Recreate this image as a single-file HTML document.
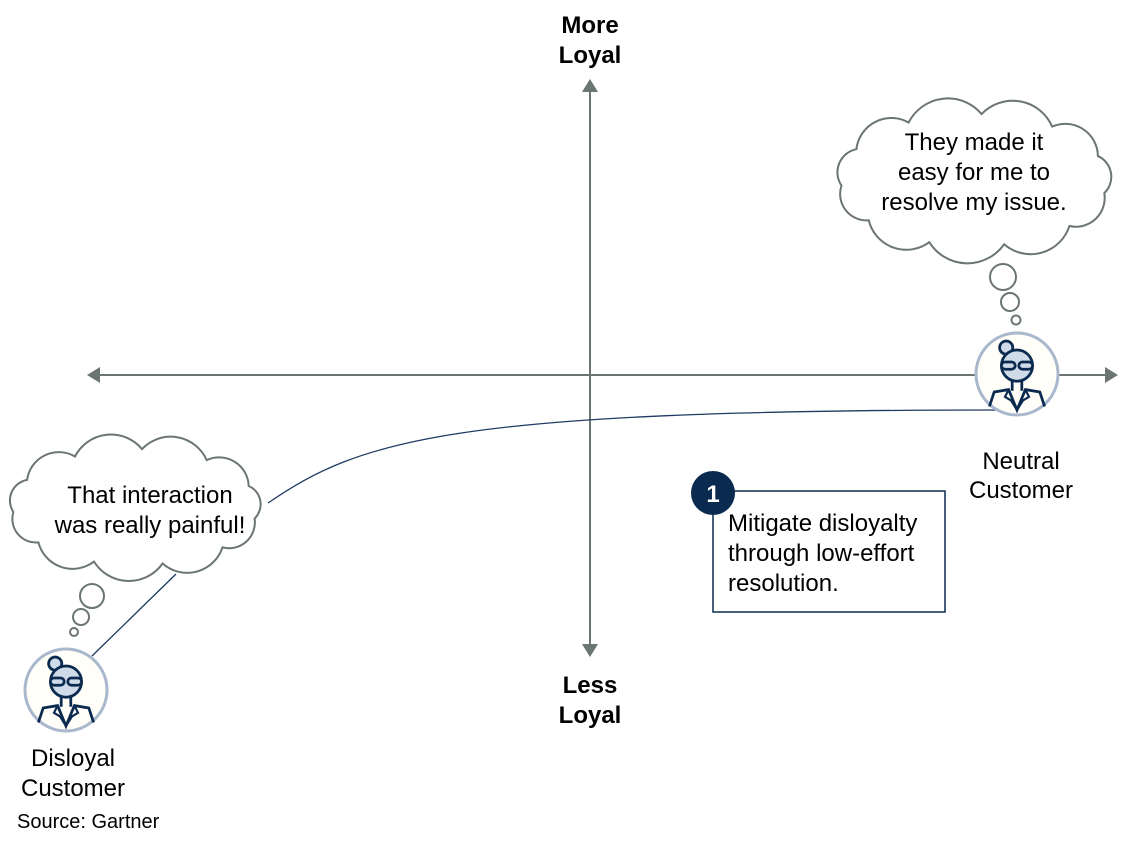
<!DOCTYPE html>
<html><head><meta charset="utf-8"><style>
html,body{margin:0;padding:0;background:#fff;}
svg{display:block;font-family:"Liberation Sans",Arial,sans-serif;}
</style></head><body>
<svg id="s" width="1133" height="846" viewBox="0 0 1133 846" xmlns="http://www.w3.org/2000/svg">
<defs>
<g id="av">
 <circle cx="0" cy="0" r="41" fill="#fffef8" stroke="#a9b8cc" stroke-width="3"/>
 <g transform="scale(1.2)">
 <circle cx="-9" cy="-22" r="5.5" fill="#cfdbe8" stroke="#0b2a4f" stroke-width="2.3"/>
 <circle cx="0" cy="-7" r="13" fill="#cfdbe8" stroke="#0b2a4f" stroke-width="2.3"/>
 <rect x="-13" y="-10" width="11.5" height="6" rx="3" fill="#cfdbe8" stroke="#0b2a4f" stroke-width="2.3"/>
 <rect x="1.5" y="-10" width="11.5" height="6" rx="3" fill="#cfdbe8" stroke="#0b2a4f" stroke-width="2.3"/>
 <path d="M-4,6 L-4,14 M4,6 L4,14" stroke="#0b2a4f" stroke-width="2.3" fill="none"/>
 <path d="M-23,27 L-19,15 L-7,13 L0,30 L7,13 L19,15 L23,27" stroke="#0b2a4f" stroke-width="2.3" fill="none"/>
 <path d="M-7,13 L-10,19 L-5,22 L0,30 L5,22 L10,19 L7,13" stroke="#0b2a4f" stroke-width="1.8" fill="none"/>
 </g>
</g>
</defs>
<g stroke="#6b7572" stroke-width="2" fill="none">
 <line x1="96" y1="375" x2="1108" y2="375"/>
 <line x1="590" y1="88" x2="590" y2="648"/>
</g>
<g fill="#6b7572">
 <polygon points="87,375 100,367 100,383"/>
 <polygon points="1118,375 1105,367 1105,383"/>
 <polygon points="590,79 582,92 598,92"/>
 <polygon points="590,657 582,644 598,644"/>
</g>
<path d="M268,503 C360,440 450,410 1000,410" stroke="#1f3a63" stroke-width="1.3" fill="none"/>
<line x1="176" y1="574" x2="92" y2="656" stroke="#1f3a63" stroke-width="1.3"/>
<path id="c1" fill="#fff" stroke="#6b7572" stroke-width="2"/>
<path id="c2" fill="#fff" stroke="#6b7572" stroke-width="2"/>
<g fill="#fff" stroke="#6b7572" stroke-width="2">
 <circle cx="1003" cy="277" r="13"/><circle cx="1010" cy="302" r="9"/><circle cx="1016" cy="320" r="4.5"/>
 <circle cx="92" cy="596" r="12"/><circle cx="81" cy="617" r="8"/><circle cx="74" cy="632" r="4"/>
</g>
<use href="#av" x="1017" y="374"/>
<use href="#av" x="66" y="690"/>
<g font-size="24" fill="#000" text-anchor="middle">
 <text x="974" y="150">They made it</text>
 <text x="974" y="180">easy for me to</text>
 <text x="974" y="210">resolve my issue.</text>
 <text x="150" y="503">That interaction</text>
 <text x="150" y="533">was really painful!</text>
 <text x="1021" y="469">Neutral</text>
 <text x="1021" y="498">Customer</text>
 <text x="73" y="766">Disloyal</text>
 <text x="73" y="796">Customer</text>
 <text x="590" y="33" font-weight="bold">More</text>
 <text x="590" y="63" font-weight="bold">Loyal</text>
 <text x="590" y="693" font-weight="bold">Less</text>
 <text x="590" y="723" font-weight="bold">Loyal</text>
</g>
<text x="17" y="828" font-size="20">Source: Gartner</text>
<rect x="713" y="491" width="232" height="121" fill="#fff" stroke="#0b2a4f" stroke-width="1.5"/>
<circle cx="713" cy="493" r="22" fill="#0b2a4f"/>
<text x="713" y="502" font-size="24" font-weight="bold" fill="#fff" text-anchor="middle">1</text>
<g font-size="24" fill="#000">
 <text x="728" y="531">Mitigate disloyalty</text>
 <text x="728" y="561">through low-effort</text>
 <text x="728" y="591">resolution.</text>
</g>
</svg>
<script>
function cloud(cx,cy,rx,ry,n){
 var pts=[];for(var i=0;i<n;i++){var a=2*Math.PI*i/n+0.2;pts.push([cx+rx*Math.cos(a),cy+ry*Math.sin(a)]);}
 var d="M"+pts[0][0].toFixed(1)+","+pts[0][1].toFixed(1);
 for(var i=1;i<=n;i++){var p=pts[i%n],q=pts[i-1];var ch=Math.hypot(p[0]-q[0],p[1]-q[1]);var r=ch*0.6;
 d+=" A"+r.toFixed(1)+","+r.toFixed(1)+" 0 0 1 "+p[0].toFixed(1)+","+p[1].toFixed(1);}
 return d+"Z";}
document.getElementById("c1").setAttribute("d",cloud(135,507,122,58,11));
document.getElementById("c2").setAttribute("d",cloud(974,180,133,66,11));
</script>
</body></html>
